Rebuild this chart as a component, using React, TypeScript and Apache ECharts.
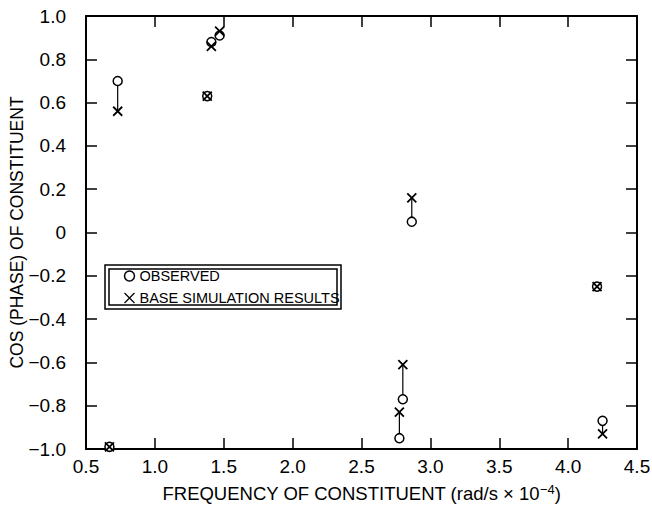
import React, { useEffect, useRef } from "react";
import * as echarts from "echarts";

const frequencies = [0.67, 0.73, 1.38, 1.41, 1.47, 2.775, 2.8, 2.865, 4.21, 4.25];
const observed = [-0.99, 0.7, 0.63, 0.88, 0.91, -0.95, -0.77, 0.05, -0.25, -0.87];
const simulated = [-0.99, 0.56, 0.63, 0.86, 0.93, -0.83, -0.61, 0.16, -0.25, -0.93];
const xTicks = [0.5, 1.0, 1.5, 2.0, 2.5, 3.0, 3.5, 4.0, 4.5];
const yTicks = [-1.0, -0.8, -0.6, -0.4, -0.2, 0, 0.2, 0.4, 0.6, 0.8, 1.0];

const FONT = "'Liberation Sans', Arial, sans-serif";
const CROSS = "path://M0,0L10,10M10,0L0,10";

export default function App() {
  const ref = useRef<HTMLDivElement>(null);
  useEffect(() => {
    if (!ref.current) return;
    const chart = echarts.init(ref.current, undefined, { renderer: "svg" });
    const fmtY = (v: number) => {
      if (Math.abs(v) < 1e-9) return "0";
      const s = Math.abs(v).toFixed(1);
      return v < 0 ? "\u2212" + s : s;
    };
    const axisCommon = {
      axisLine: { show: true, onZero: false, lineStyle: { color: "#000", width: 2 } },
      axisTick: { show: true, inside: true, length: 11, lineStyle: { color: "#000", width: 1.5 } },
      splitLine: { show: false },
    };
    const obsData = frequencies.map((f, i) => [f, observed[i]]);
    const simData = frequencies.map((f, i) => [f, simulated[i]]);
    const pairData = frequencies.map((f, i) => [f, observed[i], simulated[i]]);
    chart.setOption({
      animation: false,
      backgroundColor: "#fff",
      textStyle: { fontFamily: FONT },
      grid: { left: 86, right: 15, top: 16, bottom: 59, containLabel: false, outerBoundsMode: "none" },
      xAxis: [
        {
          type: "value",
          min: xTicks[0],
          max: xTicks[xTicks.length - 1],
          interval: 0.5,
          position: "bottom",
          ...axisCommon,
          axisLabel: {
            color: "#000",
            fontSize: 19,
            fontFamily: FONT,
            margin: 8,
            formatter: (v: number) => v.toFixed(1),
          },
          name: "FREQUENCY OF CONSTITUENT (rad/s \u00d7 10{sup|\u22124})",
          nameLocation: "middle",
          nameGap: 34,
          nameMoveOverlap: false,
          nameTextStyle: {
            color: "#000",
            fontSize: 18.5,
            fontFamily: FONT,
            rich: { sup: { fontSize: 13, verticalAlign: "top", padding: [0, 0, 8, 0], fontFamily: FONT, color: "#000" } },
          },
        },
        {
          type: "value",
          min: xTicks[0],
          max: xTicks[xTicks.length - 1],
          interval: 0.5,
          position: "top",
          ...axisCommon,
          axisLabel: { show: false },
        },
      ],
      yAxis: [
        {
          type: "value",
          min: yTicks[0],
          max: yTicks[yTicks.length - 1],
          interval: 0.2,
          position: "left",
          ...axisCommon,
          axisLabel: { color: "#000", fontSize: 19, fontFamily: FONT, margin: 20, formatter: fmtY },
          name: "COS (PHASE) OF CONSTITUENT",
          nameLocation: "middle",
          nameGap: 60,
          nameMoveOverlap: false,
          nameTextStyle: { color: "#000", fontSize: 17.5, fontFamily: FONT },
        },
        {
          type: "value",
          min: yTicks[0],
          max: yTicks[yTicks.length - 1],
          interval: 0.2,
          position: "right",
          ...axisCommon,
          axisLabel: { show: false },
        },
      ],
      legend: {
        orient: "vertical",
        left: 122,
        top: 268,
        itemWidth: 10,
        itemHeight: 10,
        itemGap: 6,
        padding: 0,
        textStyle: { color: "#000", fontSize: 14.5, lineHeight: 16, fontFamily: FONT },
        data: [
          { name: "OBSERVED", icon: "circle", itemStyle: { color: "#fff", borderColor: "#000", borderWidth: 1.5 } },
          { name: "BASE SIMULATION RESULTS", icon: CROSS, itemStyle: { color: "none", borderColor: "#000", borderWidth: 1.2 } },
        ],
      },
      graphic: [
        { type: "rect", shape: { x: 105, y: 265, width: 236, height: 44 }, style: { fill: "none", stroke: "#000", lineWidth: 1.5 }, z: 10 },
        { type: "rect", shape: { x: 109, y: 269, width: 228, height: 36 }, style: { fill: "none", stroke: "#000", lineWidth: 1.5 }, z: 10 },
      ],
      series: [
        {
          type: "custom",
          name: "pairs",
          xAxisIndex: 0,
          yAxisIndex: 0,
          silent: true,
          data: pairData,
          renderItem: (params: any, api: any) => {
            const p1 = api.coord([api.value(0), api.value(1)]);
            const p2 = api.coord([api.value(0), api.value(2)]);
            return {
              type: "line",
              shape: { x1: p1[0], y1: p1[1], x2: p2[0], y2: p2[1] },
              style: { stroke: "#000", lineWidth: 1.2 },
            };
          },
          z: 1,
        },
        {
          type: "scatter",
          name: "OBSERVED",
          data: obsData,
          symbol: "circle",
          symbolSize: 9,
          itemStyle: { color: "#fff", borderColor: "#000", borderWidth: 1.5, opacity: 1 },
          z: 3,
        },
        {
          type: "scatter",
          name: "BASE SIMULATION RESULTS",
          data: simData,
          symbol: CROSS,
          symbolSize: 9,
          itemStyle: { color: "none", borderColor: "#000", borderWidth: 1.8, opacity: 1 },
          z: 4,
        },
      ],
    });
    return () => chart.dispose();
  }, []);
  return <div ref={ref} style={{ width: 652, height: 508, position: "absolute", left: 0, top: 0 }} />;
}
